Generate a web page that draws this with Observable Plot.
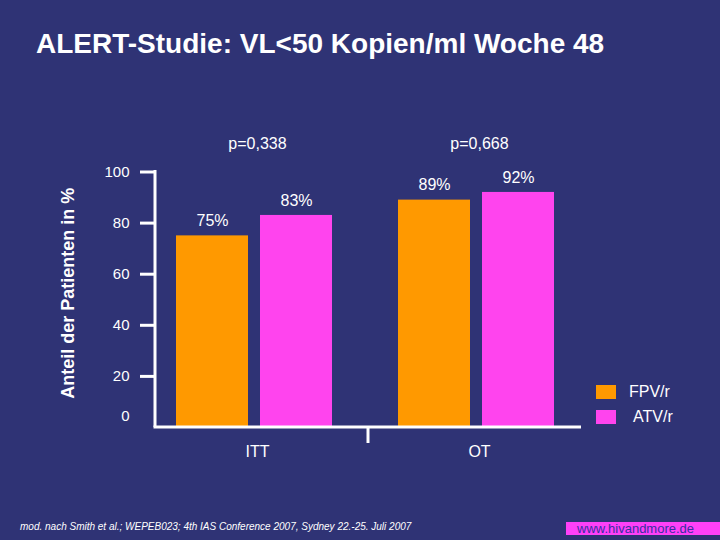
<!DOCTYPE html>
<html>
<head>
<meta charset="utf-8">
<script src="https://cdn.jsdelivr.net/npm/d3@7"></script>
<script src="https://cdn.jsdelivr.net/npm/@observablehq/plot@0.6"></script>
<style>
  html, body { margin: 0; padding: 0; background: #2f3375; }
  #page { position: relative; width: 720px; height: 540px; background: #2f3375; overflow: hidden;
          font-family: "Liberation Sans", Arial, sans-serif; color: white; }
  #title { position: absolute; left: 36px; top: 29.5px; font-size: 28px; line-height: 28px; font-weight: bold; white-space: nowrap; }
  #chart { position: absolute; left: 0; top: 100px; }
  #chart g[aria-label="y-axis tick"] path { stroke-width: 3px; stroke: white; }
  #legend { position: absolute; left: 596px; top: 385px; font-size: 16px; }
  .lg-row { position: absolute; left: 0; white-space: nowrap; }
  .lg-sw { position: absolute; left: 0; width: 20px; height: 14px; }
  .lg-tx { position: absolute; top: -2px; line-height: 18px; }
  #caption { position: absolute; left: 20px; top: 520px; font-size: 10px; line-height: 13px; font-style: italic; white-space: nowrap; }
  #site { position: absolute; left: 566px; top: 522px; width: 154px; height: 13px; background: #ff40f8;
          color: #3a2f9e; font-size: 13px; line-height: 13px; padding-left: 11px; box-sizing: border-box; white-space: nowrap; }
</style>
</head>
<body>
<div id="page">
  <div id="title"></div>
  <div id="chart"></div>
  <div id="legend"></div>
  <div id="caption"></div>
  <div id="site"></div>
</div>
<script>
// ---- data ----
const titleText = "ALERT-Studie: VL<50 Kopien/ml Woche 48";
const groups = ["ITT", "OT"];
const drugs = ["FPV/r", "ATV/r"];
const fpvValues = [75, 89];
const atvValues = [83, 92];
const pValues = ["p=0,338", "p=0,668"];
const yTicks = [0, 20, 40, 60, 80, 100];
const drugColors = ["#ff9900", "#ff44ee"];
const yLabel = "Anteil der Patienten in %";
const captionText = "mod. nach Smith et al.; WEPEB023; 4th IAS Conference 2007, Sydney 22.-25. Juli 2007";
const siteText = "www.hivandmore.de";

// ---- tables built from the arrays ----
const rows = groups.flatMap((g, i) => [
  {group: g, drug: drugs[0], value: fpvValues[i]},
  {group: g, drug: drugs[1], value: atvValues[i]}
]);
const pRows = groups.map((g, i) => ({group: g, p: pValues[i]}));
const labelRows = [{group: groups[0], label: yLabel}];

document.getElementById("title").textContent = titleText;
document.getElementById("caption").textContent = captionText;
document.getElementById("site").textContent = siteText;

const plot = Plot.plot({
  width: 720,
  height: 380,
  marginLeft: 155,
  marginRight: 139,
  marginTop: 71.5,
  marginBottom: 53,
  style: {background: "transparent", color: "white", fontFamily: "Liberation Sans, Arial, sans-serif", fontSize: "15px", overflow: "visible"},
  fx: {domain: groups, paddingInner: 18 / 222, paddingOuter: 0, label: null},
  x: {domain: drugs, paddingInner: 12 / 84, paddingOuter: 0.2857, align: 0.4375, axis: null},
  y: {domain: [0, 100], label: null},
  color: {domain: drugs, range: drugColors},
  marks: [
    Plot.barY(rows, {fx: "group", x: "drug", y: "value", fill: "drug"}),
    Plot.text(rows, {fx: "group", x: "drug", y: "value", text: d => d.value + "%", dy: -15, fill: "white", fontSize: 16}),
    Plot.text(pRows, {fx: "group", text: "p", frameAnchor: "top", dy: -34, fill: "white", fontSize: 16}),
    Plot.text(labelRows, {fx: "group", text: "label", frameAnchor: "left", textAnchor: "middle", rotate: -90, dx: -87, dy: -6.5, fill: "white", fontSize: 18, fontWeight: "bold"}),
    Plot.axisY({ticks: yTicks.filter(t => t > 0), tickSize: 15, tickPadding: 11, stroke: "white", fill: "white", fontSize: 15, label: null}),
    Plot.axisY({ticks: yTicks.filter(t => t === 0), tickSize: 0, tickPadding: 26, dy: -11, fill: "white", fontSize: 15, label: null}),
    Plot.axisFx({anchor: "bottom", tickSize: 0, tickPadding: 18, fill: "white", fontSize: 16, label: null})
  ]
});

// axis lines drawn from the library's scales
const ys = plot.scale("y");
const fxs = plot.scale("fx");
const svg = d3.select(plot);
const left = fxs.range[0];
const right = fxs.range[1];
const y0 = ys.apply(0);
const yTop = ys.apply(100);
const lines = svg.append("g").attr("stroke", "white").attr("stroke-width", 3).attr("fill", "none");
lines.append("line").attr("x1", left).attr("x2", left).attr("y1", yTop - 1.5).attr("y2", y0);
lines.append("line").attr("x1", left - 1.5).attr("x2", right).attr("y1", y0).attr("y2", y0);
const mid = (fxs.apply(groups[0]) + fxs.bandwidth + fxs.apply(groups[1])) / 2;
lines.append("line").attr("x1", mid).attr("x2", mid).attr("y1", y0).attr("y2", y0 + 16);

document.getElementById("chart").appendChild(plot);

// legend from the same arrays
const legend = d3.select("#legend");
drugs.forEach((d, i) => {
  const row = legend.append("div").attr("class", "lg-row").style("top", (i * 25) + "px");
  row.append("div").attr("class", "lg-sw").style("background", drugColors[i]);
  row.append("div").attr("class", "lg-tx").style("left", (i === 0 ? 33 : 37) + "px").text(d);
});
</script>
</body>
</html>
